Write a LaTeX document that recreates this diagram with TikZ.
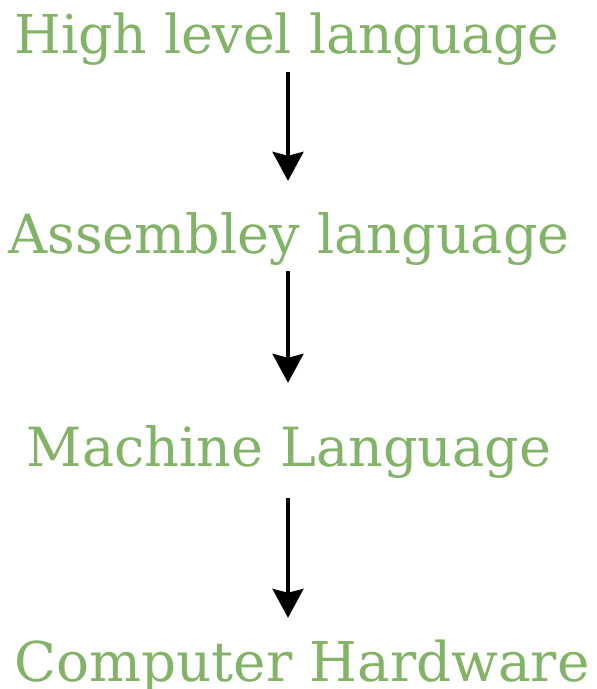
\documentclass[tikz,border=0pt]{standalone}
\usepackage{fontspec}
\setmainfont{DejaVu Serif}
\usetikzlibrary{arrows.meta}
\definecolor{lblgreen}{HTML}{82B366}
\begin{document}
\begin{tikzpicture}[x=1pt,y=1pt,
  lbl/.style={text=lblgreen, font=\fontsize{54}{60}\selectfont, inner sep=0pt, text height=40pt, text depth=12pt, anchor=base},
  arr/.style={draw=black, line width=3.5pt, -{Stealth[length=29pt,width=31pt,inset=4pt]}}]
\useasboundingbox (0,0) rectangle (597,-689);
\node[lbl, font=\fontsize{53.6}{60}\selectfont] (t1) at (287,-53) {High level language};
\node[lbl] (t2) at (289,-253) {Assembley language};
\node[lbl] (t3) at (289,-466) {Machine Language};
\node[lbl, font=\fontsize{54.8}{60}\selectfont] (t4) at (302,-681) {Computer Hardware};
\coordinate (ax) at (288,0);
\draw[arr, shorten <=7pt, shorten >=32pt] (t1.south -| ax) -- (t2.north -| ax);
\draw[arr, shorten <=6pt, shorten >=43pt] (t2.south -| ax) -- (t3.north -| ax);
\draw[arr, shorten <=20pt, shorten >=23pt] (t3.south -| ax) -- (t4.north -| ax);
\end{tikzpicture}
\end{document}
